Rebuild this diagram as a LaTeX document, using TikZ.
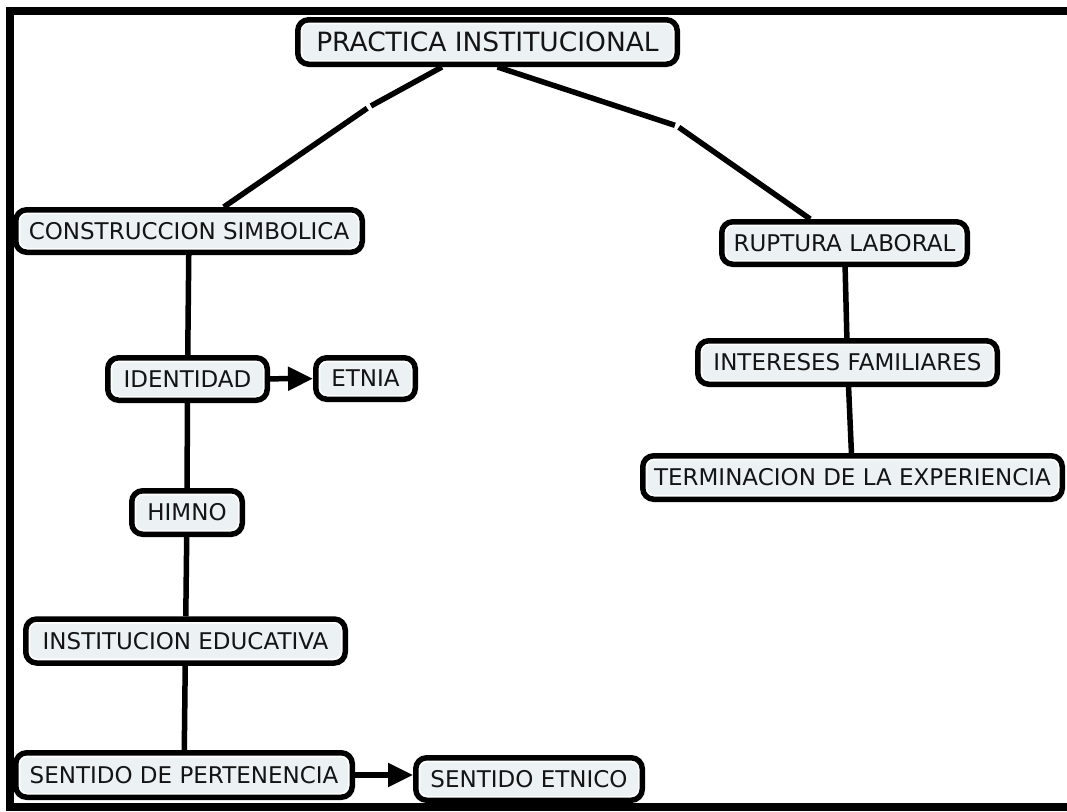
\documentclass[tikz,border=0pt]{standalone}
\usepackage{fontspec}
\setmainfont{DejaVu Sans}
\usetikzlibrary{arrows.meta}
\definecolor{boxfill}{RGB}{236,242,244}
\definecolor{ink}{RGB}{20,20,20}
\begin{document}
\begin{tikzpicture}[x=1pt,y=-1pt,
  concept/.style={draw=black, line width=5.5pt, rounded corners=11pt, fill=white,
    inner sep=0pt, align=center, text=ink,
    font=\fontsize{23}{27}\selectfont,
    path picture={\fill[boxfill, rounded corners=7pt]
      ([shift={(4.5pt,-4.5pt)}]path picture bounding box.north west) rectangle
      ([shift={(-4.5pt,4.5pt)}]path picture bounding box.south east);}},
  link/.style={line width=5.5pt, draw=black},
  joint/.style={circle, inner sep=0pt, minimum size=4pt},
  arrowlink/.style={line width=5.5pt, draw=black, -{Triangle[length=25pt,width=23pt]}},
]
\useasboundingbox (0,0) rectangle (1067,811);
\fill[white] (0,0) rectangle (1067,811);
\clip (0,0) rectangle (1067,811);

% outer frame (open on the right)
\draw[line width=8pt] (1080,11) -- (9.5,11) -- (9.5,807) -- (1080,807);

% concepts
\node[concept, font=\fontsize{26.5}{30}\selectfont, minimum width=379.5pt, minimum height=44.5pt] (pi) at (487.5,42) {PRACTICA INSTITUCIONAL};
\node[concept, minimum width=346.5pt, minimum height=42.5pt] (cs) at (189,231) {CONSTRUCCION SIMBOLICA};
\node[concept, minimum width=159.5pt, minimum height=42.5pt] (id) at (187.5,379) {IDENTIDAD};
\node[concept, minimum width=99.5pt, minimum height=41.5pt] (et) at (365.5,378.5) {ETNIA};
\node[concept, minimum width=110.5pt, minimum height=43.5pt] (hi) at (187,512.5) {HIMNO};
\node[concept, minimum width=319.5pt, minimum height=44pt] (ie) at (185.5,641) {INSTITUCION EDUCATIVA};
\node[concept, minimum width=336.5pt, minimum height=44.5pt] (sp) at (184,775) {SENTIDO DE PERTENENCIA};
\node[concept, minimum width=226.5pt, minimum height=42.5pt] (se) at (529,779) {SENTIDO ETNICO};
\node[concept, minimum width=245.5pt, minimum height=42.5pt] (rl) at (844.5,243) {RUPTURA LABORAL};
\node[concept, minimum width=299.5pt, minimum height=43.5pt] (if) at (847.5,362.5) {INTERESES FAMILIARES};
\node[concept, minimum width=419.5pt, minimum height=43.5pt] (te) at (852.5,477.5) {TERMINACION DE LA EXPERIENCIA};

% empty linking points
\node[joint] (l1) at (369,107) {};
\node[joint] (l2) at (677,126) {};

% connectors
\draw[link] (pi) -- (l1);
\draw[link] (l1) -- (cs);
\draw[link] ([xshift=10pt]pi.south) -- (l2);
\draw[link] (l2) -- (rl);
\draw[link] (cs) -- (id);
\draw[link] (id) -- (hi);
\draw[link] (hi) -- (ie);
\draw[link] (ie) -- (sp);
\draw[link] (rl) -- (if);
\draw[link] (if) -- (te);
\draw[arrowlink] (id) -- (et);
\draw[arrowlink] (sp.east) -- (sp.east -| se.west);
\end{tikzpicture}
\end{document}
